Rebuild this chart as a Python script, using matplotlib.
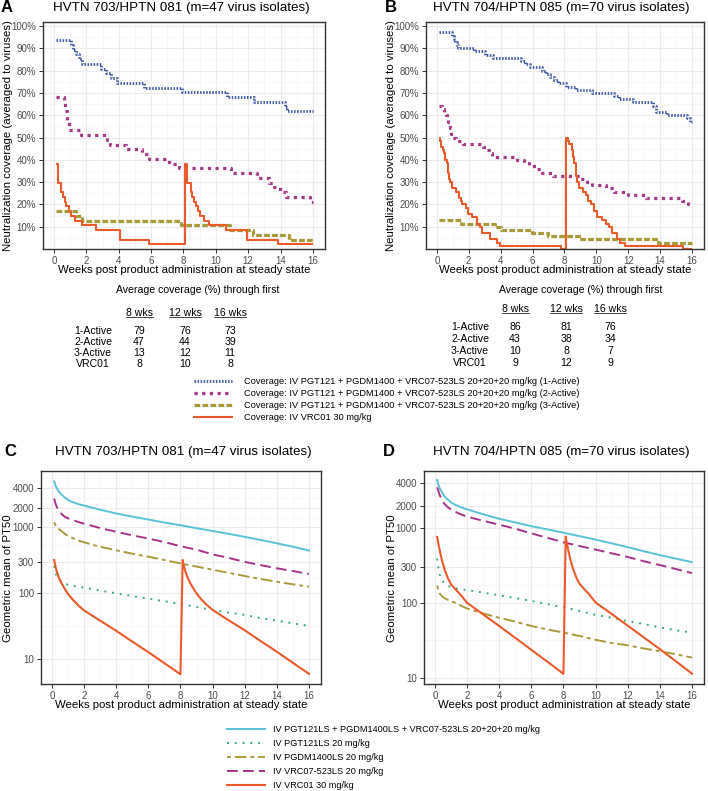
import matplotlib
matplotlib.use("Agg")
import matplotlib.pyplot as plt
from matplotlib import font_manager
from matplotlib.lines import Line2D
from matplotlib.ticker import FixedLocator, NullFormatter

plt.rcParams['font.family'] = ['Liberation Sans', 'DejaVu Sans']

# condensed face for the tables/legend if one is installed, else regular at a smaller size
names = {f.name for f in font_manager.fontManager.ttflist}
if 'Liberation Sans Narrow' in names:
    NARROW, NSCALE = ['Liberation Sans Narrow'], 1.0
else:
    NARROW, NSCALE = ['Liberation Sans', 'DejaVu Sans'], 0.82

W, H = 708, 791

# ---------------- coverage data (A, B) ----------------
# week at which each level starts, number of isolates neutralized
m_a, m_b = 47, 70

a1_t = [0.14, 1.05, 1.2, 1.35, 1.55, 1.7, 2.9, 3.2, 3.5, 3.9, 5.55, 7.9, 10.7, 12.35, 14.3, 14.4]
a1_k = [44, 43, 42, 41, 40, 39, 38, 37, 36, 35, 34, 33, 32, 31, 30, 29]
a2_t = [0.14, 0.6, 0.7, 0.8, 0.9, 1.65, 3.25, 3.45, 4.45, 5.45, 5.85, 7.1, 7.75, 10.95, 12.55,
        13.3, 13.6, 13.95, 14.35, 15.8]
a2_k = [32, 31, 29, 27, 25, 24, 23, 22, 21, 20, 19, 18, 17, 16, 15, 14, 13, 12, 11, 10]
a3_t = [0.14, 1.35, 1.75, 7.85, 10.85, 12.3, 14.55]
a3_k = [8, 7, 6, 5, 4, 3, 2]
a4_t = [0.14, 0.25, 0.45, 0.55, 0.65, 0.75, 0.9, 1.05, 1.3, 1.7, 2.6, 4.05, 5.85,
        8.12, 8.25, 8.45, 8.55, 8.65, 8.75, 8.9, 9.05, 9.3, 9.6, 10.65, 11.95, 13.85]
a4_k = [18, 14, 12, 11, 10, 9, 8, 7, 6, 5, 4, 2, 1,
        18, 14, 12, 11, 10, 9, 8, 7, 6, 5, 4, 2, 1]

b1_t = [0.14, 0.95, 1.05, 1.15, 1.25, 1.35, 2.3, 3.05, 3.5, 5.25, 5.5, 5.85, 6.6, 6.85, 7.1,
        7.35, 7.6, 8.1, 8.7, 9.7, 11.1, 11.4, 12.3, 13.55, 13.75, 14.45, 15.7, 15.9]
b1_k = [68, 67, 66, 65, 64, 63, 62, 61, 60, 59, 58, 57, 56, 55, 54,
        53, 52, 51, 50, 49, 48, 47, 46, 45, 43, 42, 41, 40]
b2_t = [0.14, 0.3, 0.45, 0.55, 0.65, 0.72, 0.8, 0.9, 1.0, 1.2, 1.65, 2.9, 3.15, 3.3, 3.45,
        5.05, 5.45, 5.8, 6.2, 6.6, 7.3, 9.0, 9.4, 9.75, 10.6, 11.1, 12.0, 13.1, 15.35, 15.75]
b2_k = [45, 44, 43, 42, 41, 40, 38, 36, 35, 34, 33, 32, 31, 30, 29,
        28, 27, 26, 25, 24, 23, 22, 21, 20, 19, 18, 17, 16, 15, 14]
b3_t = [0.14, 1.5, 3.65, 4.05, 5.95, 6.95, 8.9, 13.85]
b3_k = [9, 8, 7, 6, 5, 4, 3, 2]
b4_t = [0.14, 0.22, 0.29, 0.37, 0.45, 0.53, 0.62, 0.67, 0.72, 0.78, 0.83, 0.97, 1.18, 1.39,
        1.5, 1.59, 1.8, 1.94, 2.21, 2.52, 2.73, 2.83, 3.35, 3.76, 3.97, 7.8,
        8.1, 8.2, 8.3, 8.45, 8.55, 8.62, 8.7, 8.8, 8.93, 9.15, 9.34, 9.5, 9.65, 9.86, 10.07,
        10.38, 10.58, 10.79, 11.0, 11.3, 11.5, 11.8, 15.45]
b4_k = [35, 34, 32, 31, 30, 28, 27, 26, 24, 22, 21, 19, 18, 16,
        15, 14, 13, 11, 10, 8, 7, 5, 3, 2, 1, 0,
        35, 34, 33, 31, 29, 27, 23, 21, 19, 18, 17, 15, 14, 12, 10,
        9, 8, 7, 5, 3, 2, 1, 0]

# ---------------- table data ----------------
tab_cols = ['8 wks', '12 wks', '16 wks']
tab_rows = ['1-Active', '2-Active', '3-Active', 'VRC01']
tab_a = [[79, 76, 73], [47, 44, 39], [13, 12, 11], [8, 10, 8]]
tab_b = [[86, 81, 76], [43, 38, 34], [10, 8, 7], [9, 12, 9]]

# ---------------- PT50 data (C, D) ----------------
wk = [0.14, 0.2, 0.3, 0.45, 0.6, 0.8, 1.0, 1.3, 1.6, 2, 3, 4, 5, 6, 7, 8,
      9, 10, 11, 12, 13, 14, 15, 16]
c_combo = [5000, 4500, 3950, 3450, 3150, 2850, 2620, 2420, 2280, 2150, 1860, 1630, 1460, 1320,
           1190, 1080, 975, 885, 800, 720, 645, 575, 510, 446]
c_pgt = [260, 215, 180, 160, 148, 140, 135, 130, 126, 122, 110, 100, 91, 83, 76, 69,
         62, 56, 51, 47, 42, 38.5, 35, 32]
c_pgdm = [1200, 1110, 1020, 940, 880, 800, 750, 690, 640, 595, 510, 450, 400, 360, 320, 285,
          255, 228, 205, 183, 165, 150, 137, 126]
c_vrc07 = [2750, 2400, 2050, 1780, 1600, 1450, 1380, 1300, 1220, 1140, 980, 860, 760, 680,
           600, 520, 460, 390, 345, 300, 268, 240, 218, 197]
d_combo = [4400, 3900, 3400, 2980, 2650, 2400, 2200, 2030, 1900, 1780, 1530, 1330, 1190, 1060,
           960, 867, 780, 700, 625, 555, 490, 435, 390, 351]
d_pgt = [390, 310, 240, 200, 180, 168, 162, 156, 152, 148, 137, 126, 116, 106, 96, 87,
         78, 69, 63, 57, 52, 47, 43, 40]
d_pgdm = [170, 150, 133, 122, 115, 110, 106, 99, 92, 84, 72, 63, 56, 49, 44, 40,
          36, 32, 29, 27, 24.5, 22.5, 20.5, 18.5]
d_vrc07 = [3500, 3200, 2750, 2350, 2100, 1900, 1780, 1640, 1530, 1420, 1250, 1110, 980, 850,
           740, 645, 575, 515, 460, 410, 360, 320, 283, 250]

vrc_wk = [0.14, 0.2, 0.3, 0.45, 0.6, 0.8, 1.0, 1.3, 1.6, 2, 3, 4, 5, 6, 7, 8.0,
          8.14, 8.2, 8.3, 8.45, 8.6, 8.8, 9.0, 9.3, 9.6, 10, 11, 12, 13, 14, 15, 16]
c_vrc01 = [321, 270, 215, 170, 142, 117, 98, 80, 67, 55, 38.5, 27, 18.5, 12.8, 8.7, 5.9,
           321, 272, 217, 172, 144, 119, 100, 81, 68, 56, 39, 27.5, 18.8, 13, 8.8, 6.0]
d_vrc01 = [760, 640, 500, 360, 280, 215, 177, 150, 128, 100, 70, 49, 34, 23.5, 16.3, 11.2,
           770, 650, 505, 365, 285, 218, 180, 152, 130, 101, 71, 49.5, 34.5, 24, 16.5, 11.3]

cov_labels = ['Coverage: IV PGT121 + PGDM1400 + VRC07-523LS 20+20+20 mg/kg (1-Active)',
              'Coverage: IV PGT121 + PGDM1400 + VRC07-523LS 20+20+20 mg/kg (2-Active)',
              'Coverage: IV PGT121 + PGDM1400 + VRC07-523LS 20+20+20 mg/kg (3-Active)',
              'Coverage: IV VRC01 30 mg/kg']
pk_labels = ['IV PGT121LS + PGDM1400LS + VRC07-523LS 20+20+20 mg/kg',
             'IV PGT121LS 20 mg/kg', 'IV PGDM1400LS 20 mg/kg',
             'IV VRC07-523LS 20 mg/kg', 'IV VRC01 30 mg/kg']

# ---------------- styles ----------------
cov_styles = [dict(color='#4058A8', lw=2.0, ls=(0, (0.55, 0.55))),
              dict(color='#A33A87', lw=2.3, ls=(0, (1.0, 1.4))),
              dict(color='#A89A38', lw=2.3, ls=(0, (1.8, 0.7))),
              dict(color='#EA5A2A', lw=1.5, ls='-')]
pk_styles = [dict(color='#59C3D6', lw=1.4, ls='-'),
             dict(color='#3BAA7B', lw=1.4, ls=(0, (1, 3))),
             dict(color='#A99B3C', lw=1.4, ls=(0, (2, 2, 6, 2))),
             dict(color='#A8348A', lw=1.4, ls=(0, (5.5, 2.7))),
             dict(color='#EA5A2A', lw=1.5, ls='-')]

fig = plt.figure(figsize=(W / 100, H / 100), dpi=100)


def add_ax(l, t, r, b):
    return fig.add_axes([l / W, 1 - b / H, (r - l) / W, (b - t) / H])


def ftext(x, y, s, **kw):
    return fig.text(x / W, 1 - y / H, s, **kw)


def style(ax):
    for s in ax.spines.values():
        s.set_color('#333333')
        s.set_linewidth(1.0)
    ax.grid(which='major', color='#EBEBEB', lw=0.8)
    ax.grid(which='minor', color='#F4F4F4', lw=0.5)
    ax.set_axisbelow(True)
    ax.tick_params(which='major', length=3, width=0.7, color='#333333',
                   labelsize=7, labelcolor='#4D4D4D', pad=2)
    ax.tick_params(which='minor', length=0)
    ax.set_xlim(-0.68, 16.75)
    ax.set_xticks(range(0, 17, 2))
    ax.xaxis.set_minor_locator(FixedLocator(range(1, 17, 2)))


def cov_panel(ax, series, m):
    style(ax)
    for (t, k), st in zip(series, cov_styles):
        x = list(t) + [16]
        y = [100 * c / m for c in k] + [100 * k[-1] / m]
        ax.plot(x, y, drawstyle='steps-post', solid_capstyle='butt',
                dash_capstyle='butt', **st)
    ax.set_ylim(0, 101.8)
    ax.set_yticks(range(10, 101, 10))
    ax.set_yticklabels([f'{v}%' for v in range(10, 101, 10)])
    ax.yaxis.set_minor_locator(FixedLocator(range(5, 100, 10)))


def pk_panel(ax, series, ylim):
    style(ax)
    for (x, y), st in zip(series, pk_styles):
        ax.plot(x, y, dash_capstyle='butt', **st)
    ax.set_yscale('log')
    ax.set_ylim(*ylim)
    brk = [10, 100, 300, 1000, 2000, 4000]
    ax.yaxis.set_major_locator(FixedLocator(brk))
    ax.set_yticklabels([str(b) for b in brk])
    mids = [10 / 10 ** 0.5] + [(a * b) ** 0.5 for a, b in zip(brk[:-1], brk[1:])] + [4000 * 2 ** 0.5]
    ax.yaxis.set_minor_locator(FixedLocator(mids))
    ax.yaxis.set_minor_formatter(NullFormatter())


axA = add_ax(43, 22, 325, 249)
axB = add_ax(426, 22, 704, 249)
axC = add_ax(41, 471, 321, 684)
axD = add_ax(424, 471, 704, 684)

cov_panel(axA, [(a1_t, a1_k), (a2_t, a2_k), (a3_t, a3_k), (a4_t, a4_k)], m_a)
cov_panel(axB, [(b1_t, b1_k), (b2_t, b2_k), (b3_t, b3_k), (b4_t, b4_k)], m_b)
pk_panel(axC, [(wk, c_combo), (wk, c_pgt), (wk, c_pgdm), (wk, c_vrc07), (vrc_wk, c_vrc01)],
         (4.2, 7200))
pk_panel(axD, [(wk, d_combo), (wk, d_pgt), (wk, d_pgdm), (wk, d_vrc07), (vrc_wk, d_vrc01)],
         (8.2, 5800))

# titles, panel letters, axis titles
xlab = 'Weeks post product administration at steady state'
for letter, lx, tx, ty, title in [('A', 7, 181, 8, 'HVTN 703/HPTN 081 (m=47 virus isolates)'),
                                  ('B', 391, 561, 8, 'HVTN 704/HPTN 085 (m=70 virus isolates)'),
                                  ('C', 10, 183, 452, 'HVTN 703/HPTN 081 (m=47 virus isolates)'),
                                  ('D', 389, 561, 452, 'HVTN 704/HPTN 085 (m=70 virus isolates)')]:
    ftext(lx, ty, letter, fontsize=12, fontweight='bold', ha='center', va='center')
    ftext(tx, ty, title, fontsize=9.6, ha='center', va='center')

for x, y, s in [(8, 136, 'Neutralization coverage (averaged to viruses)'),
                (391, 136, 'Neutralization coverage (averaged to viruses)'),
                (8, 578, 'Geometric mean of PT50'),
                (392, 578, 'Geometric mean of PT50')]:
    ftext(x, y, s, fontsize=8.2, rotation=90, ha='center', va='center')
for x, y in [(184, 270), (565, 270), (181, 705), (564, 705)]:
    ftext(x, y, xlab, fontsize=8.2, ha='center', va='center')

# coverage tables
tab_font = dict(family=NARROW, fontsize=9.2 * NSCALE, ha='center', va='center')
headers = []
for vals, hx, hy, cx, rx, ry in [
        (tab_a, 198, 290, [139, 185, 230], 93, [313, 331, 342, 353, 364]),
        (tab_b, 581, 290, [515, 566, 610], 470, [309, 327, 339, 351, 363])]:
    ftext(hx, hy, 'Average coverage (%) through first', **tab_font)
    for c, x in zip(tab_cols, cx):
        headers.append(ftext(x, ry[0], c, **tab_font))
    for i, (lab, row) in enumerate(zip(tab_rows, vals)):
        ftext(rx, ry[i + 1], lab, **tab_font)
        for v, x in zip(row, cx):
            ftext(x, ry[i + 1], str(v), **tab_font)

fig.canvas.draw()
r = fig.canvas.get_renderer()
for t in headers:
    bb = t.get_window_extent(r)
    fig.add_artist(Line2D([bb.x0 / W, bb.x1 / W], [(bb.y0 + 1) / H] * 2,
                          transform=fig.transFigure, color='#222222', lw=0.6))

# legends (drawn as keys + text)
for i, (lab, st) in enumerate(zip(cov_labels, cov_styles)):
    y = 1 - (381 + 12 * i) / H
    fig.add_artist(Line2D([194 / W, 232 / W], [y, y], transform=fig.transFigure,
                          dash_capstyle='butt', **st))
    fig.text(244 / W, y, lab, family=NARROW, fontsize=8.1 * NSCALE, va='center')

for i, (lab, st) in enumerate(zip(pk_labels, pk_styles)):
    y = 1 - (729 + 14 * i) / H
    fig.add_artist(Line2D([227 / W, 265 / W], [y, y], transform=fig.transFigure,
                          dash_capstyle='butt', **st))
    fig.text(273 / W, y, lab, fontsize=6.6, va='center')

fig.savefig('out.png', dpi=100)
